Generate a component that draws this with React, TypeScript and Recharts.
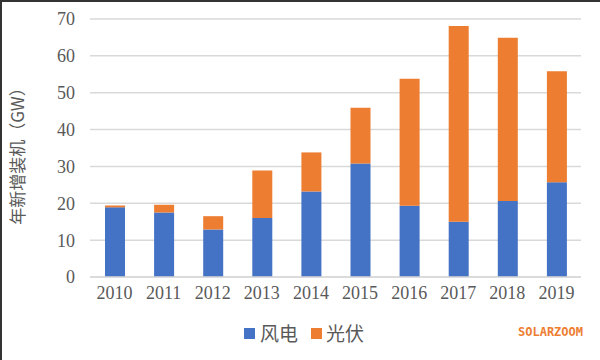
import React from "react";
import { BarChart, Bar, XAxis, YAxis, CartesianGrid } from "recharts";

const YEARS = ["2010", "2011", "2012", "2013", "2014", "2015", "2016", "2017", "2018", "2019"];
const WIND = [18.9, 17.5, 12.9, 16.0, 23.2, 30.8, 19.3, 15.0, 20.6, 25.7];
const SOLAR = [0.5, 2.1, 3.6, 12.9, 10.6, 15.1, 34.5, 53.1, 44.3, 30.1];
const Y_TICKS = [0, 10, 20, 30, 40, 50, 60, 70];

const BLUE = "#4472C4";
const ORANGE = "#ED7D31";
const TEXT = "#595959";
const CJK = '"Noto Sans CJK SC", "Noto Sans", sans-serif';

const data = YEARS.map((year, i) => ({ year, wind: WIND[i], solar: SOLAR[i] }));

const tickStyle = { fontSize: 18, fill: TEXT, fontFamily: '"Liberation Serif", serif' };

export default function App() {
  return (
    <div
      style={{
        position: "absolute",
        left: 0,
        top: 0,
        width: 600,
        height: 360,
        background: "#fff",
        overflow: "hidden",
      }}
    >
      <BarChart
        width={600}
        height={360}
        data={data}
        margin={{ top: 19, right: 19, bottom: 53, left: 0 }}
      >
        <CartesianGrid vertical={false} stroke="#d9d9d9" strokeWidth={1.5} />
        <XAxis
          dataKey="year"
          height={30}
          tickLine={false}
          axisLine={{ stroke: "#d9d9d9", strokeWidth: 1.5 }}
          tickSize={0}
          tickMargin={9}
          tick={tickStyle}
          interval={0}
        />
        <YAxis
          width={90}
          domain={[0, 70]}
          ticks={Y_TICKS}
          tickLine={false}
          axisLine={false}
          tickSize={0}
          tickMargin={15}
          tick={tickStyle}
          label={{
            value: "年新增装机（GW）",
            angle: -90,
            position: "center",
            dx: -27,
            dy: 4,
            style: { fontSize: 17, fill: TEXT, fontFamily: CJK },
          }}
        />
        <Bar dataKey="wind" stackId="a" fill={BLUE} barSize={20} isAnimationActive={false} />
        <Bar dataKey="solar" stackId="a" fill={ORANGE} barSize={20} isAnimationActive={false} />
      </BarChart>

      {/* legend */}
      <div
        style={{
          position: "absolute",
          left: 244,
          top: 320,
          display: "flex",
          alignItems: "center",
          fontFamily: CJK,
          fontSize: 19,
          color: TEXT,
          lineHeight: "26px",
        }}
      >
        <span style={{ width: 11, height: 11, background: BLUE, display: "inline-block", marginRight: 5 }} />
        <span>风电</span>
        <span
          style={{ width: 11, height: 11, background: ORANGE, display: "inline-block", marginLeft: 13, marginRight: 4 }}
        />
        <span>光伏</span>
      </div>

      <div
        style={{
          position: "absolute",
          left: 518,
          top: 325,
          fontFamily: '"DejaVu Sans Mono", monospace',
          fontWeight: "bold",
          fontSize: 12,
          color: ORANGE,
        }}
      >
        SOLARZOOM
      </div>

      {/* scanned frame edge */}
      <div
        style={{
          position: "absolute",
          left: 0,
          top: 0,
          width: 600,
          height: 360,
          boxSizing: "border-box",
          borderTop: "2px solid #333",
          borderLeft: "2px solid #333",
          pointerEvents: "none",
        }}
      />
    </div>
  );
}
